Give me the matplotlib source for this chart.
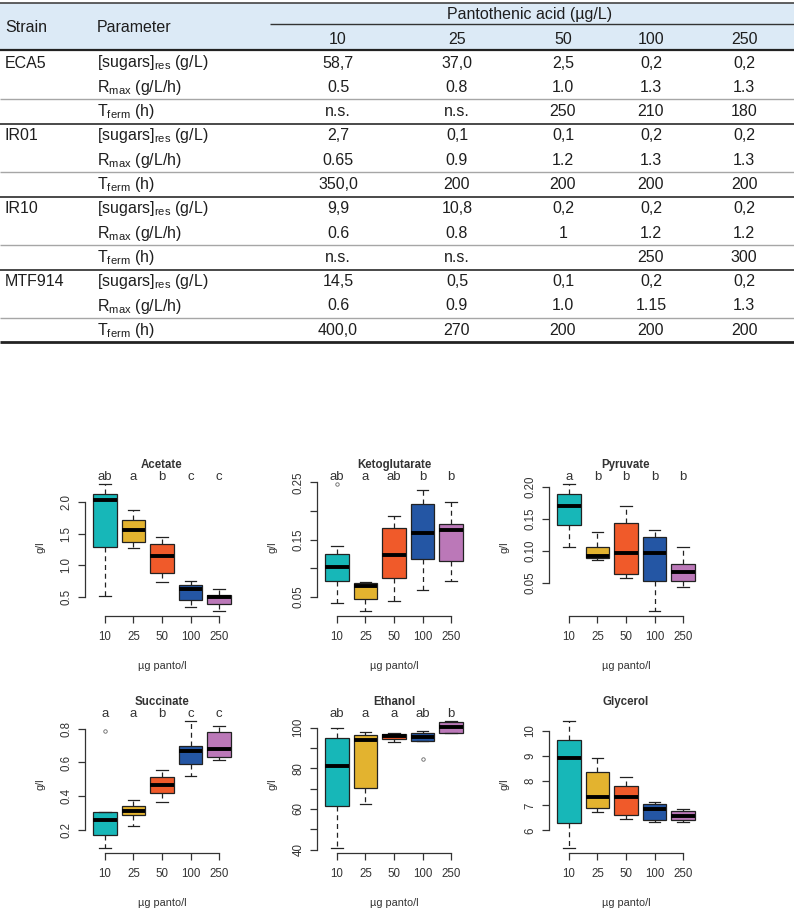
import matplotlib as mpl
import matplotlib.pyplot as plt

mpl.rcParams['font.family'] = 'Liberation Sans'
mpl.rcParams['mathtext.fontset'] = 'custom'
mpl.rcParams['mathtext.rm'] = 'Liberation Sans'

W, H = 794, 911  # figure size in px (dpi 100)

# ---------------- table data ----------------
strains = ["ECA5", "IR01", "IR10", "MTF914"]
parameters = [r"[sugars]$_{\mathregular{res}}$ (g/L)",
              r"R$_{\mathregular{max}}$ (g/L/h)",
              r"T$_{\mathregular{ferm}}$ (h)"]
panto = ["10", "25", "50", "100", "250"]

sugars_res = [["58,7", "37,0", "2,5", "0,2", "0,2"],
              ["2,7", "0,1", "0,1", "0,2", "0,2"],
              ["9,9", "10,8", "0,2", "0,2", "0,2"],
              ["14,5", "0,5", "0,1", "0,2", "0,2"]]
r_max = [["0.5", "0.8", "1.0", "1.3", "1.3"],
         ["0.65", "0.9", "1.2", "1.3", "1.3"],
         ["0.6", "0.8", "1", "1.2", "1.2"],
         ["0.6", "0.9", "1.0", "1.15", "1.3"]]
t_ferm = [["n.s.", "n.s.", "250", "210", "180"],
          ["350,0", "200", "200", "200", "200"],
          ["n.s.", "n.s.", "", "250", "300"],
          ["400,0", "270", "200", "200", "200"]]

# ---------------- boxplot data (five-number summaries) ----------------
doses = ["10", "25", "50", "100", "250"]
box_colors = ["#17b7b8", "#e3b32f", "#f05a2a", "#2456a4", "#bb78b8"]

acetate_lo  = [0.52, 1.27, 0.74, 0.34, 0.28]
acetate_q1  = [1.29, 1.37, 0.88, 0.45, 0.39]
acetate_med = [2.03, 1.56, 1.14, 0.62, 0.50]
acetate_q3  = [2.13, 1.71, 1.33, 0.69, 0.53]
acetate_hi  = [2.28, 1.87, 1.44, 0.75, 0.62]
acetate_out = [[], [], [], [], []]
acetate_letters = ["ab", "a", "b", "c", "c"]

keto_lo  = [0.039, 0.025, 0.042, 0.062, 0.077]
keto_q1  = [0.077, 0.045, 0.083, 0.116, 0.113]
keto_med = [0.102, 0.069, 0.122, 0.162, 0.166]
keto_q3  = [0.125, 0.073, 0.170, 0.213, 0.177]
keto_hi  = [0.139, 0.076, 0.192, 0.237, 0.215]
keto_out = [[0.247], [], [], [], []]
keto_letters = ["ab", "a", "ab", "b", "b"]

pyr_lo  = [0.106, 0.085, 0.057, 0.006, 0.043]
pyr_q1  = [0.140, 0.089, 0.063, 0.053, 0.052]
pyr_med = [0.169, 0.092, 0.097, 0.096, 0.066]
pyr_q3  = [0.189, 0.106, 0.144, 0.122, 0.079]
pyr_hi  = [0.204, 0.129, 0.169, 0.132, 0.106]
pyr_out = [[], [], [], [], []]
pyr_letters = ["a", "b", "b", "b", "b"]

succ_lo  = [0.094, 0.223, 0.367, 0.519, 0.614]
succ_q1  = [0.173, 0.286, 0.417, 0.592, 0.632]
succ_med = [0.258, 0.312, 0.464, 0.666, 0.677]
succ_q3  = [0.306, 0.345, 0.513, 0.697, 0.782]
succ_hi  = [0.306, 0.377, 0.553, 0.845, 0.816]
succ_out = [[0.786], [], [], [], []]
succ_letters = ["a", "a", "b", "c", "c"]

eth_lo  = [40.8, 62.2, 93.1, 93.4, 97.5]
eth_q1  = [61.7, 70.4, 94.7, 93.4, 97.5]
eth_med = [81.1, 94.2, 95.9, 95.4, 100.3]
eth_q3  = [95.1, 96.4, 97.0, 97.2, 102.8]
eth_hi  = [100.0, 98.0, 97.5, 98.4, 103.3]
eth_out = [[], [], [], [84.7], []]
eth_letters = ["ab", "a", "a", "ab", "b"]

gly_lo  = [5.29, 6.73, 6.46, 6.32, 6.32]
gly_q1  = [6.30, 6.90, 6.61, 6.43, 6.40]
gly_med = [8.90, 7.35, 7.35, 6.86, 6.59]
gly_q3  = [9.64, 8.36, 7.78, 7.04, 6.77]
gly_hi  = [10.40, 8.92, 8.14, 7.13, 6.84]
gly_out = [[], [], [], [], []]
gly_letters = ["", "", "", "", ""]

acetate_ticks = [0.5, 1.0, 1.5, 2.0]
acetate_ticklabels = ["0.5", "1.0", "1.5", "2.0"]
keto_ticks = [0.05, 0.10, 0.15, 0.20, 0.25]
keto_ticklabels = ["0.05", "", "0.15", "", "0.25"]
pyr_ticks = [0.05, 0.10, 0.15, 0.20]
pyr_ticklabels = ["0.05", "0.10", "0.15", "0.20"]
succ_ticks = [0.2, 0.4, 0.6, 0.8]
succ_ticklabels = ["0.2", "0.4", "0.6", "0.8"]
eth_ticks = [40, 50, 60, 70, 80, 90, 100]
eth_ticklabels = ["40", "", "60", "", "80", "", "100"]
gly_ticks = [6, 7, 8, 9, 10]
gly_ticklabels = ["6", "7", "8", "9", "10"]

fig = plt.figure(figsize=(W / 100, H / 100), dpi=100)

# ================= table (drawn in pixel coordinates) =================
tab = fig.add_axes([0, 0, 1, 1])
tab.set_xlim(0, W)
tab.set_ylim(H, 0)
tab.axis("off")

TXT = "#1e1e1e"
FS = 11.5
col_x = [338, 457, 563, 651, 744]
row0, dy = 63, 24.3

tab.add_patch(plt.Rectangle((0, 3), W, 47, color="#dceaf6", lw=0, zorder=0))
tab.hlines(3, 0, W, color="#444444", lw=1.2)
tab.hlines(24, 270, W, color="#333333", lw=1.0)
tab.hlines(50, 0, W, color="#222222", lw=1.6)

tab.text(5, 27, "Strain", fontsize=FS, color=TXT, va="center")
tab.text(97, 27, "Parameter", fontsize=FS, color=TXT, va="center")
tab.text(530, 14, "Pantothenic acid (µg/L)", fontsize=FS, color=TXT,
         ha="center", va="center")
for x, lab in zip(col_x, panto):
    tab.text(x, 39, lab, fontsize=FS, color=TXT, ha="center", va="center")

for g, strain in enumerate(strains):
    rows = [sugars_res[g], r_max[g], t_ferm[g]]
    for p in range(3):
        k = 3 * g + p
        y = row0 + dy * k
        if p == 0:
            tab.text(5, y, strain, fontsize=FS, color=TXT, va="center")
        tab.text(97, y, parameters[p], fontsize=FS, color=TXT, va="center")
        for x, val in zip(col_x, rows[p]):
            tab.text(x, y, val, fontsize=FS, color=TXT, ha="center", va="center")
    # gray line between Rmax and Tferm, dark line after each group
    tab.hlines(row0 + dy * (3 * g + 1.5), 0, W, color="#a6a6a6", lw=1.0)
    if g < 3:
        tab.hlines(row0 + dy * (3 * g + 2.5), 0, W, color="#3a3a3a", lw=1.3)
tab.hlines(row0 + dy * 11.5, 0, W, color="#222222", lw=2.0)

# ================= boxplots =================
panels = [
    ("Acetate", acetate_lo, acetate_q1, acetate_med, acetate_q3, acetate_hi,
     acetate_out, acetate_letters, acetate_ticks, acetate_ticklabels),
    ("Ketoglutarate", keto_lo, keto_q1, keto_med, keto_q3, keto_hi,
     keto_out, keto_letters, keto_ticks, keto_ticklabels),
    ("Pyruvate", pyr_lo, pyr_q1, pyr_med, pyr_q3, pyr_hi,
     pyr_out, pyr_letters, pyr_ticks, pyr_ticklabels),
    ("Succinate", succ_lo, succ_q1, succ_med, succ_q3, succ_hi,
     succ_out, succ_letters, succ_ticks, succ_ticklabels),
    ("Ethanol", eth_lo, eth_q1, eth_med, eth_q3, eth_hi,
     eth_out, eth_letters, eth_ticks, eth_ticklabels),
    ("Glycerol", gly_lo, gly_q1, gly_med, gly_q3, gly_hi,
     gly_out, gly_letters, gly_ticks, gly_ticklabels),
]

col_left = [85, 317, 549]
row_bottom = [616, 853]
pw, ph = 154, 137
GRAY = "#333333"

for i, (name, lo, q1, med, q3, hi, outs, letters, ticks, ticklabels) in enumerate(panels):
    left = col_left[i % 3]
    bottom = row_bottom[i // 3]
    ax = fig.add_axes([left / W, 1 - bottom / H, pw / W, ph / H])

    stats = [dict(whislo=a, q1=b, med=c, q3=d, whishi=e, fliers=f)
             for a, b, c, d, e, f in zip(lo, q1, med, q3, hi, outs)]
    bp = ax.bxp(stats, positions=range(1, 6), widths=0.82, capwidths=0.41,
                patch_artist=True,
                boxprops=dict(edgecolor="#222222", lw=0.9),
                medianprops=dict(color="black", lw=2.8, solid_capstyle="butt"),
                whiskerprops=dict(color="#222222", lw=0.9, ls=(0, (4, 3))),
                capprops=dict(color="#222222", lw=0.9),
                flierprops=dict(marker="o", ms=2.5, mfc="none", mec="#666666", mew=0.6))
    for patch, c in zip(bp["boxes"], box_colors):
        patch.set_facecolor(c)

    # R-style axis ranges: 4% padding
    allv = lo + hi + [v for o in outs for v in o]
    ymin, ymax = min(allv), max(allv)
    pad = 0.04 * (ymax - ymin)
    ax.set_ylim(ymin - pad, ymax + pad)
    ax.set_xlim(0.3, 5.7)

    for s in ("top", "right"):
        ax.spines[s].set_visible(False)
    ax.spines["left"].set_bounds(ticks[0], ticks[-1])
    ax.spines["bottom"].set_bounds(1, 5)
    for s in ("left", "bottom"):
        ax.spines[s].set_color(GRAY)
        ax.spines[s].set_linewidth(0.9)

    ax.set_xticks(range(1, 6))
    ax.set_xticklabels(doses)
    ax.set_yticks(ticks)
    ax.set_yticklabels(ticklabels)
    ax.tick_params(length=5, width=0.9, color=GRAY, labelcolor=GRAY, labelsize=8.3)
    ax.tick_params(axis="x", pad=6)
    ax.tick_params(axis="y", labelrotation=90, pad=4)
    for t in ax.get_yticklabels():
        t.set_va("center")

    ax.annotate(name, (0.5, 1), xycoords="axes fraction", xytext=(0, 10),
                textcoords="offset points", ha="center", va="center",
                fontsize=8.3, fontweight="bold", color=GRAY)
    for x, lt in zip(range(1, 6), letters):
        ax.annotate(lt, (x, 1), xycoords=("data", "axes fraction"), xytext=(0, 1.5),
                    textcoords="offset points", ha="center", va="center",
                    fontsize=9.5, color=GRAY)
    ax.annotate("µg panto/l", (0.5, 0), xycoords="axes fraction", xytext=(0, -36),
                textcoords="offset points", ha="center", va="center",
                fontsize=7.8, color=GRAY)
    ax.annotate("g/l", (0, 0.5), xycoords="axes fraction", xytext=(-32, 0),
                textcoords="offset points", ha="center", va="center",
                rotation=90, fontsize=7.8, color=GRAY)

fig.savefig("out.png", dpi=100)
